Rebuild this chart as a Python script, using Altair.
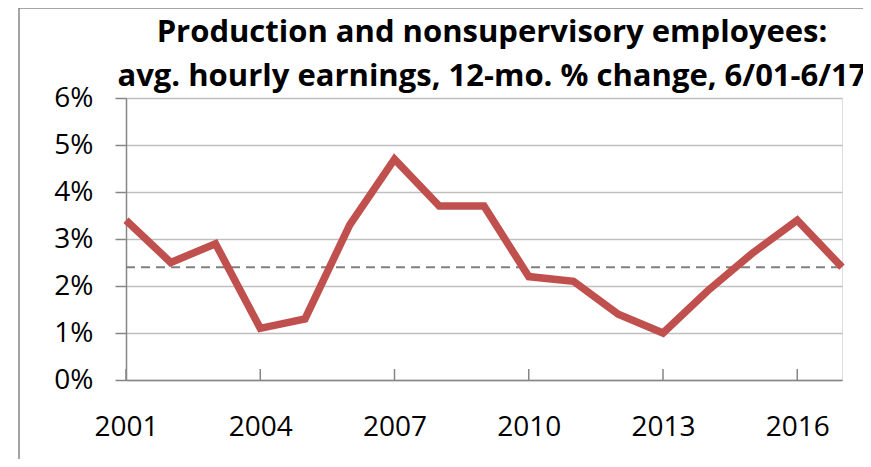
import altair as alt
import pandas as pd

years = list(range(2001, 2018))
pct_change = [3.4, 2.5, 2.9, 1.1, 1.3, 3.3, 4.7, 3.7, 3.7, 2.2, 2.1, 1.4, 1.0, 1.9, 2.7, 3.4, 2.4]
avg_value = 2.4
x_tick_years = [2001, 2004, 2007, 2010, 2013, 2016]
y_ticks = [0, 1, 2, 3, 4, 5, 6]
title_lines = ["Production and nonsupervisory employees:",
               "avg. hourly earnings, 12-mo. % change, 6/01-6/17"]

df = pd.DataFrame({"year": years, "pct": pct_change})
avg_df = pd.DataFrame({"year": [years[0], years[-1]], "pct": [avg_value, avg_value]})
tick_df = pd.DataFrame({"year": x_tick_years})
one_df = pd.DataFrame({"a": [0]})

FONT = "Open Sans"
W, H = 716, 282

xscale = alt.Scale(domain=[years[0], years[-1]], nice=False, zero=False)
yscale = alt.Scale(domain=[0, 6], nice=False)

line = alt.Chart(df).mark_line(color="#C0504D", strokeWidth=7.5, strokeJoin="miter").encode(
    x=alt.X("year:Q", scale=xscale,
            axis=alt.Axis(values=x_tick_years, format="d", title=None, grid=False,
                          ticks=False, labelFont=FONT, labelFontSize=28, labelColor="#000000",
                          labelPadding=33, domainColor="#868686", domainWidth=1.5,
                          labelFlush=False)),
    y=alt.Y("pct:Q", scale=yscale,
            axis=alt.Axis(values=y_ticks, labelExpr="datum.value + '%'", title=None,
                          grid=True, gridColor="#BFBFBF", gridWidth=1.5,
                          tickSize=11, tickColor="#868686", tickWidth=1.5,
                          domainColor="#868686", domainWidth=1.5,
                          labelFont=FONT, labelFontSize=28, labelColor="#000000",
                          labelPadding=22)),
)

avg_line = alt.Chart(avg_df).mark_line(color="#808080", strokeWidth=2, strokeDash=[9, 6]).encode(
    x=alt.X("year:Q", scale=xscale),
    y=alt.Y("pct:Q", scale=yscale),
)

xticks = alt.Chart(tick_df).mark_rule(color="#868686", strokeWidth=1.5).encode(
    x=alt.X("year:Q", scale=xscale),
    y=alt.value(H - 11),
    y2=alt.value(H),
)

frame_left = alt.Chart(one_df).mark_rule(color="#878787", strokeWidth=1.5).encode(
    x=alt.value(-107), y=alt.value(-90), y2=alt.value(H + 90)
)
frame_top = alt.Chart(one_df).mark_rule(color="#878787", strokeWidth=1.5).encode(
    x=alt.value(-107), x2=alt.value(W + 60), y=alt.value(-90)
)

title1 = alt.Chart(one_df).mark_text(font=FONT, fontSize=31, fontWeight="bold", color="#000000",
                                     align="center", baseline="alphabetic").encode(
    x=alt.value(366), y=alt.value(-56), text=alt.value(title_lines[0])
)
title2 = alt.Chart(one_df).mark_text(font=FONT, fontSize=31, fontWeight="bold", color="#000000",
                                     align="center", baseline="alphabetic").encode(
    x=alt.value(366), y=alt.value(-12), text=alt.value(title_lines[1])
)

chart = alt.layer(avg_line, xticks, line, frame_left, frame_top, title1, title2).properties(
    width=W, height=H,
    autosize=alt.AutoSizeParams(type="none"),
    padding={"left": 118, "top": 90, "right": 21, "bottom": 79},
).configure_view(stroke=None).configure(background="white")

chart.save("out.html", embed_options={"renderer": "svg", "actions": False})
